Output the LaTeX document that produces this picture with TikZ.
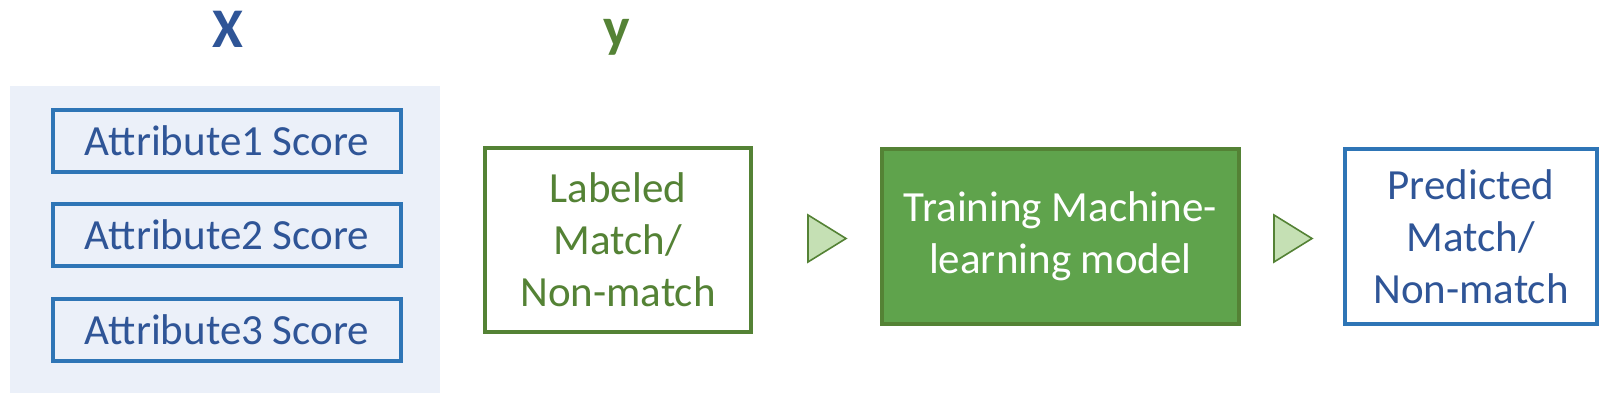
\documentclass[tikz,border=0pt]{standalone}
\usepackage{fontspec}
\setmainfont{Carlito}
\usepackage{xcolor}
\definecolor{TextBlue}{RGB}{47,85,151}
\definecolor{BorderBlue}{RGB}{46,117,182}
\definecolor{PanelBlue}{RGB}{235,240,249}
\definecolor{BorderGreen}{RGB}{84,130,53}
\definecolor{FillGreen}{RGB}{95,163,76}
\definecolor{FillLightGreen}{RGB}{197,224,180}
\usetikzlibrary{positioning, calc}
\tikzset{
  % Generic box
  sbox/.style={
    rectangle, draw, line width=2pt,
    align=center, inner sep=0pt,
    font=\fontsize{21.5}{26}\selectfont
  },
  % Colored box variants
  sbox blue/.style={sbox, draw=BorderBlue, text=TextBlue},
  sbox green/.style={sbox, draw=BorderGreen, text=BorderGreen, fill=white},
  sbox dark/.style={sbox, draw=BorderGreen, fill=FillGreen, text=white},
  % Feature panel
  panel/.style={rectangle, fill=PanelBlue, inner sep=0pt},
  % Arrow heads between steps
  tri/.style={draw=BorderGreen, fill=FillLightGreen, line width=0.8pt, line join=miter},
  % Variable letters
  varlbl/.style={font=\fontsize{28}{34}\selectfont\bfseries, anchor=base},
}

\begin{document}
\begin{tikzpicture}[x=0.5pt, y=-0.5pt]
  \useasboundingbox (0,0) rectangle (1616,410);

  %% Features X
  \node[varlbl, text=TextBlue] (xlbl) at (227.5,48) {X};
  \node[panel, minimum width=215pt, minimum height=153.5pt] (panel) at (225,239.5) {};
  \node[sbox blue, minimum width=174pt, minimum height=31pt] (attr1) at (227,141) {Attribute1 Score};
  \node[sbox blue, minimum width=174pt, minimum height=31pt] (attr2) at (227,235) {Attribute2 Score};
  \node[sbox blue, minimum width=174pt, minimum height=31pt] (attr3) at (227,330) {Attribute3 Score};

  %% Target y
  \node[varlbl, text=BorderGreen] (ylbl) at (617,47) {y};
  \node[sbox green, minimum width=133pt, minimum height=92pt] (labeled) at (618,240) {Labeled\\Match/\\Non-match};

  %% Model and output
  \node[sbox dark, minimum width=178.5pt, minimum height=87.5pt] (train) at (1060.5,236.5) {Training Machine-\\learning model};
  \node[sbox blue, minimum width=126pt, minimum height=87.5pt] (pred) at (1471,236.5) {Predicted\\Match/\\Non-match};

  %% Step arrows
  \coordinate (t1) at (808,238.5);
  \coordinate (t2) at (1274,238.5);
  \draw[tri] (t1) ++(0,-23.5) -- ++(38,23.5) -- ++(-38,23.5) -- cycle;
  \draw[tri] (t2) ++(0,-23.5) -- ++(38,23.5) -- ++(-38,23.5) -- cycle;

\end{tikzpicture}
\end{document}
